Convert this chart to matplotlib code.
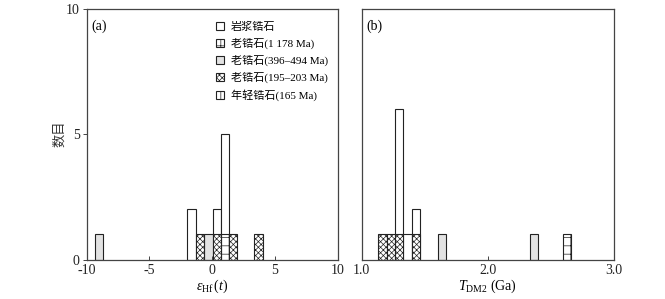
import matplotlib
matplotlib.use("Agg")
import matplotlib.pyplot as plt
from matplotlib.patches import Patch

plt.rcParams['font.family'] = ['Liberation Serif', 'Noto Sans CJK SC']
plt.rcParams['mathtext.fontset'] = 'custom'
plt.rcParams['mathtext.rm'] = 'Liberation Serif'
plt.rcParams['mathtext.it'] = 'Liberation Serif:italic'
plt.rcParams['hatch.linewidth'] = 0.5

# ---- data ----
series_labels = ["岩浆锆石", "老锆石(1 178 Ma)", "老锆石(396–494 Ma)",
                 "老锆石(195–203 Ma)", "年轻锆石(165 Ma)"]

# panel (a): eps_Hf(t) histogram (bin centres, counts)
a_bin_width = 0.663
a_magmatic_x = [-1.65, 0.35, 1.01]
a_magmatic_n = [2, 2, 5]
a_old1178_x = [1.01]
a_old1178_n = [1]
a_old396_x = [-9.0, -0.31]
a_old396_n = [1, 1]
a_old195_x = [-0.97, 0.35, 1.67, 3.69]
a_old195_n = [1, 1, 1, 1]

# panel (b): T_DM2 histogram (Ga)
b_bin_width = 0.066
b_magmatic_x = [1.297, 1.363, 1.429]
b_magmatic_n = [6, 1, 2]
b_old1178_x = [2.625]
b_old1178_n = [1]
b_old396_x = [1.634, 2.365]
b_old396_n = [1, 1]
b_old195_x = [1.165, 1.231, 1.297, 1.429]
b_old195_n = [1, 1, 1, 1]

a_xticks = [-10, -5, 0, 5, 10]
a_xticklabels = ["-10", "-5", "0", "5", "10"]
b_xticks = [1.0, 2.0, 3.0]
b_xticklabels = ["1.0", "2.0", "3.0"]
yticks = [0, 5, 10]

EC = '#222222'
styles = [
    dict(facecolor='white', edgecolor=EC, hatch=None),
    dict(facecolor='white', edgecolor=EC, hatch='++'),
    dict(facecolor='#e2e2e2', edgecolor=EC, hatch=None),
    dict(facecolor='white', edgecolor=EC, hatch='xxxxxx'),
    dict(facecolor='white', edgecolor=EC, hatch='||'),
]

fig = plt.figure(figsize=(6.65, 2.99), dpi=100)
axa = fig.add_axes([0.1304, 0.132, 0.3776, 0.8395])
axb = fig.add_axes([0.5439, 0.132, 0.3794, 0.8395])

def draw(ax, w, groups):
    for (xs, ns), st in zip(groups, styles):
        if xs:
            ax.bar(xs, ns, width=w, linewidth=0.8, **st)

draw(axa, a_bin_width, [(a_magmatic_x, a_magmatic_n), (a_old1178_x, a_old1178_n),
                        (a_old396_x, a_old396_n), (a_old195_x, a_old195_n), ([], [])])
draw(axb, b_bin_width, [(b_magmatic_x, b_magmatic_n), (b_old1178_x, b_old1178_n),
                        (b_old396_x, b_old396_n), (b_old195_x, b_old195_n), ([], [])])

for ax in (axa, axb):
    ax.set_ylim(0, 10)
    for s in ax.spines.values():
        s.set_color('#444444')
        s.set_linewidth(0.9)
    ax.tick_params(axis='x', direction='in', length=3, width=0.7, colors='#444444',
                   labelcolor='#222222', labelsize=10, pad=3)
    ax.tick_params(axis='y', direction='out', length=3, width=0.7, colors='#444444',
                   labelcolor='#222222', labelsize=10, pad=2)

axa.set_xlim(-10, 10)
axa.set_xticks(a_xticks)
axa.set_xticklabels(a_xticklabels)
axa.set_yticks(yticks)
axa.set_ylabel("数目", fontsize=9.5, labelpad=0, color='#333333')
axa.set_xlabel(r"$\varepsilon_{\rm Hf}\,(t)$", fontsize=10, labelpad=1)
axa.text(0.02, 0.955, "(a)", transform=axa.transAxes, fontsize=10, va='top', ha='left')

axb.set_xlim(1.0, 3.0)
axb.set_xticks(b_xticks)
axb.set_xticklabels(b_xticklabels)
axb.set_yticks([])
axb.set_xlabel(r"$T_{\rm DM2}$ (Ga)", fontsize=10, labelpad=1)
axb.text(0.02, 0.955, "(b)", transform=axb.transAxes, fontsize=10, va='top', ha='left')

handles = [Patch(linewidth=0.8, **st) for st in styles]
axa.legend(handles, series_labels, loc='upper left', bbox_to_anchor=(0.505, 0.955),
           frameon=False, fontsize=8, handlelength=0.75, handleheight=0.75,
           handletextpad=0.6, labelspacing=0.52, borderpad=0.2, borderaxespad=0)

fig.savefig("out.png", dpi=100)
